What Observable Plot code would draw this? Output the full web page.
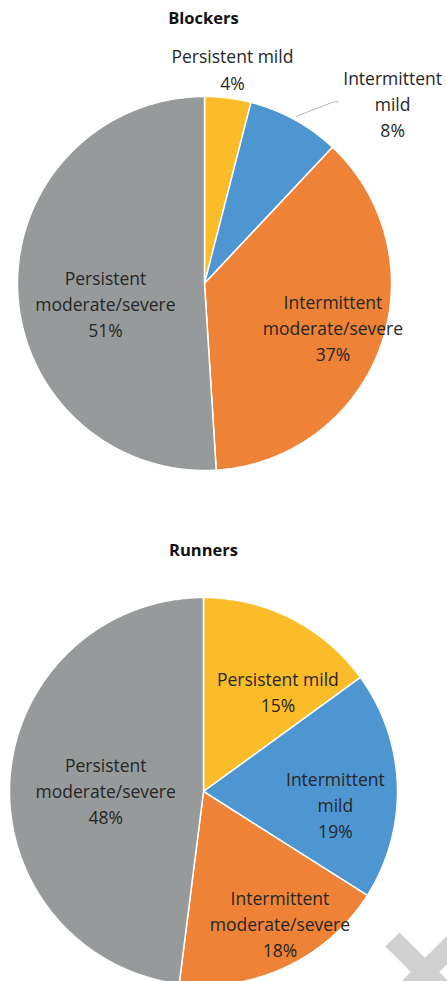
<!DOCTYPE html>
<html>
<head>
<meta charset="utf-8">
<script src="https://cdn.jsdelivr.net/npm/d3@7"></script>
<script src="https://cdn.jsdelivr.net/npm/@observablehq/plot@0.6"></script>
<style>
  html, body { margin: 0; padding: 0; background: #fff; }
  body { width: 447px; height: 981px; overflow: hidden; position: relative; font-family: "Open Sans", Lato, sans-serif; }
  .title { height: 36px; line-height: 36px; text-align: center; font-weight: bold; font-size: 16.5px; color: #111; padding-right: 40px; }
  svg { display: block; }
  .xmark { position: absolute; left: 425px; top: 972px; width: 0; height: 0; }
  .xmark span { position: absolute; left: -46px; top: -10px; width: 92px; height: 20px; background: #d0d0d0; }
  .xmark span:first-child { transform: rotate(45deg); }
  .xmark span:last-child { transform: rotate(-45deg); }
</style>
</head>
<body>
<div id="root"></div>
<div class="xmark"><span></span><span></span></div>
<script>
// Categories, in clockwise order from 12 o'clock
const categories = ["Persistent mild", "Intermittent mild", "Intermittent moderate/severe", "Persistent moderate/severe"];
const categoryLabels = ["Persistent mild", "Intermittent\nmild", "Intermittent\nmoderate/severe", "Persistent\nmoderate/severe"];
const colors = ["#FBBC2A", "#4E96D2", "#EE8236", "#979A9B"];

// Share of each group (%)
const groups = ["Blockers", "Runners"];
const blockers = [4, 8, 37, 51];
const runners = [15, 19, 18, 48];

// Layout of each pie: centre, radius, svg height, and label placement
// (radial factor along the slice mid-angle plus a small pixel nudge)
const layouts = [
  { height: 496, cx: 204, cy: 247, r: 187,
    labels: [{f: 1.15, dx: 1, dy: -2}, {f: 1.2, dx: 80, dy: 16, leader: true}, {f: 0.73, dx: 0, dy: -3}, {f: 0.53, dx: 0, dy: 16}] },
  { height: 413, cx: 203, cy: 223, r: 194,
    labels: [{f: 0.64, dx: 18, dy: 10}, {f: 0.68, dx: 0, dy: 16}, {f: 0.78, dx: 12, dy: -6}, {f: 0.5, dx: -1, dy: 4}] }
];

const rad = Math.PI / 180;
const pt = (deg, f = 1) => [Math.sin(deg * rad) * f, Math.cos(deg * rad) * f];

function pieChart(values, layout) {
  const total = d3.sum(values);
  let start = 0;
  const slices = values.map((v, i) => {
    const a0 = start, a1 = start + v / total * 360;
    start = a1;
    return { category: categories[i], value: v, a0, a1, mid: (a0 + a1) / 2, i };
  });

  // Slice outlines: centre -> arc -> centre
  const outline = slices.flatMap(s => {
    const n = Math.max(2, Math.ceil((s.a1 - s.a0) / 0.5));
    const pts = [{ category: s.category, x: 0, y: 0 }];
    for (let k = 0; k <= n; ++k) {
      const [x, y] = pt(s.a0 + (s.a1 - s.a0) * k / n);
      pts.push({ category: s.category, x, y });
    }
    pts.push({ category: s.category, x: 0, y: 0 });
    return pts;
  });

  const { r } = layout;
  const labels = slices.map(s => {
    const L = layout.labels[s.i];
    const [x, y] = pt(s.mid, L.f);
    return { ...s, x: x + L.dx / r, y: y - L.dy / r, text: `${categoryLabels[s.i]}\n${s.value}%`, leader: L.leader };
  });

  // Leader lines for labels placed outside the pie
  const leaders = labels.filter(d => d.leader).flatMap(d => {
    const [sx, sy] = pt(d.mid, 1.02);
    const ex = d.x - 54 / r, ey = d.y + 1 / r;
    return [
      { id: d.category, x: sx, y: sy },
      { id: d.category, x: ex - 5 / r, y: ey },
      { id: d.category, x: ex, y: ey }
    ];
  });

  return Plot.plot({
    width: 447,
    height: layout.height,
    margin: 0,
    style: { background: "transparent", overflow: "visible" },
    x: { domain: [-1, 1], range: [layout.cx - r, layout.cx + r], axis: null },
    y: { domain: [-1, 1], range: [layout.cy + r, layout.cy - r], axis: null },
    color: { domain: categories, range: colors },
    marks: [
      Plot.line(outline, { x: "x", y: "y", z: "category", fill: "category", stroke: "#fff", strokeWidth: 1.5, strokeLinejoin: "round", curve: "linear" }),
      Plot.line(leaders, { x: "x", y: "y", z: "id", stroke: "#b4b4b4", strokeWidth: 1 }),
      Plot.text(labels, { x: "x", y: "y", text: "text", fill: "#262626", fontSize: 17.5, lineHeight: 1.49, fontFamily: "'Open Sans', Lato, sans-serif", textAnchor: "middle" })
    ]
  });
}

const root = document.getElementById("root");
[blockers, runners].forEach((values, g) => {
  const t = document.createElement("div");
  t.className = "title";
  t.textContent = groups[g];
  root.appendChild(t);
  root.appendChild(pieChart(values, layouts[g]));
});
</script>
</body>
</html>
